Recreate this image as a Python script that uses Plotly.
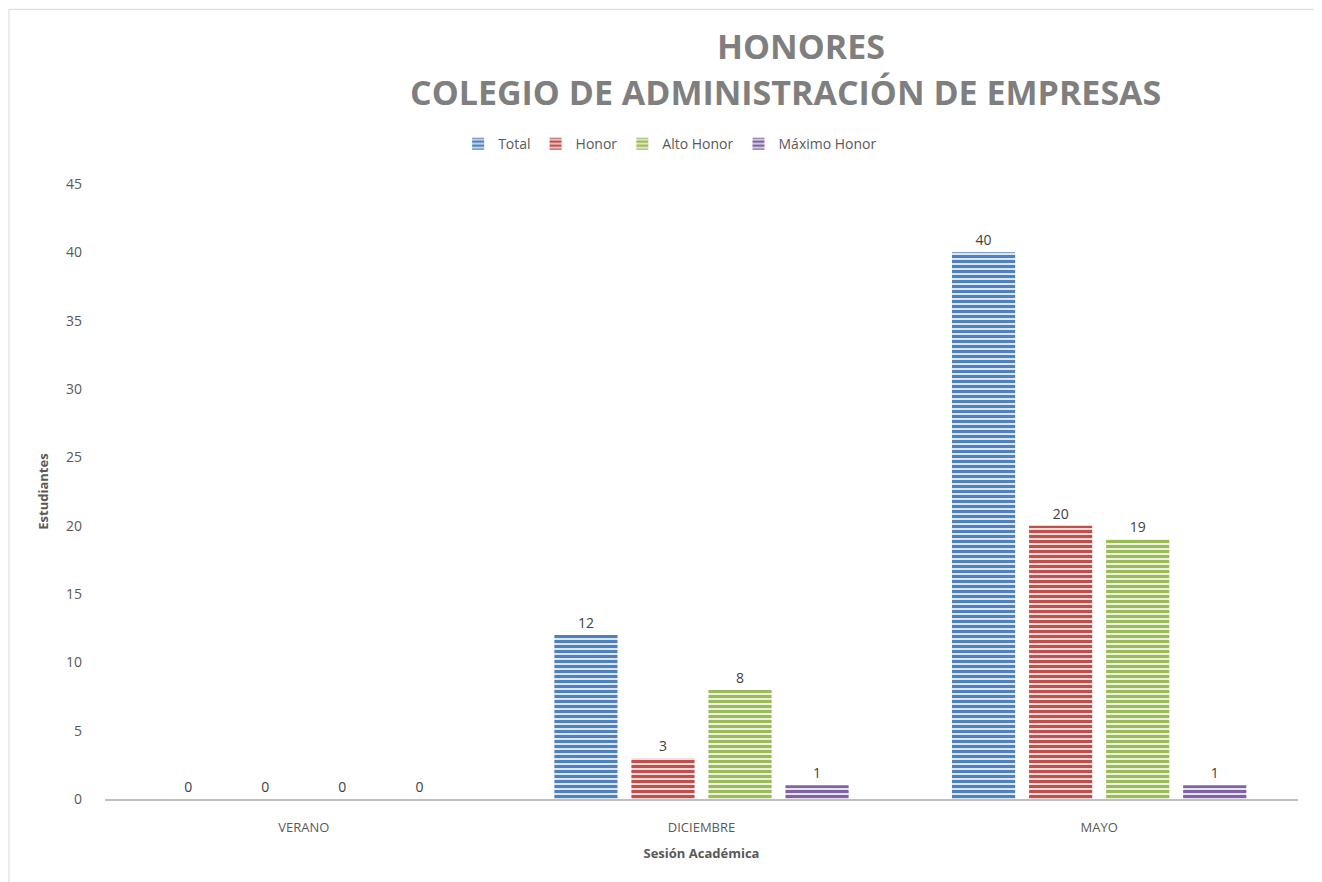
import plotly.graph_objects as go

categories = ["VERANO", "DICIEMBRE", "MAYO"]
series_names = ["Total", "Honor", "Alto Honor", "Máximo Honor"]
total = [0, 12, 40]
honor = [0, 3, 20]
alto_honor = [0, 8, 19]
maximo_honor = [0, 1, 1]
y_ticks = [0, 5, 10, 15, 20, 25, 30, 35, 40, 45]

series_values = [total, honor, alto_honor, maximo_honor]
base_colors = ["#4F81BD", "#C0504D", "#9BBB59", "#8064A2"]
light_colors = ["#DCE6F2", "#F2DCDB", "#EBF1DE", "#E6E0EC"]

fig = go.Figure()
for name, vals, c, lc in zip(series_names, series_values, base_colors, light_colors):
    fig.add_trace(go.Bar(
        name=name, x=categories, y=vals,
        marker=dict(color=lc, line=dict(width=0),
                    pattern=dict(shape="-", fgcolor=c, fgopacity=1, size=5, solidity=0.6, fillmode="overlay")),
        text=[str(v) for v in vals], textposition="outside",
        textfont=dict(family="Open Sans", size=14, color="#404040"),
        cliponaxis=False,
    ))

fig.update_layout(
    width=1314, height=874,
    margin=dict(l=97, r=24, t=176, b=83),
    paper_bgcolor="white", plot_bgcolor="white",
    barmode="group", bargap=0.225, bargroupgap=0.18,
    font=dict(family="Open Sans", color="#595959", size=14),
    showlegend=True,
    legend=dict(orientation="h", x=0.296, xanchor="left", y=1.065, yanchor="middle",
                font=dict(size=14, color="#595959"), itemwidth=30, tracegroupgap=0),
    xaxis=dict(showline=True, linecolor="#BFBFBF", linewidth=2, showgrid=False,
               ticks="", tickfont=dict(size=13, color="#595959"), ticklabelstandoff=15,
               title=dict(text="<b>Sesión Académica</b>", font=dict(size=13, color="#595959"), standoff=14)),
    yaxis=dict(range=[0, 45], tickvals=y_ticks, showgrid=False, showline=False, zeroline=False,
               ticks="", tickfont=dict(size=14, color="#595959"), ticklabelstandoff=22,
               title=dict(text="<b>Estudiantes</b>", font=dict(size=13, color="#595959"), standoff=14)),
)

fig.add_annotation(text="<b>HONORES</b>", xref="paper", yref="paper", x=0.583, y=1.2244,
                   showarrow=False, font=dict(size=34, color="#7F7F7F", family="Open Sans"),
                   xanchor="center", yanchor="middle")
fig.add_annotation(text="<b>COLEGIO DE ADMINISTRACIÓN DE EMPRESAS</b>", xref="paper", yref="paper",
                   x=0.570, y=1.1496, showarrow=False,
                   font=dict(size=34, color="#7F7F7F", family="Open Sans"),
                   xanchor="center", yanchor="middle")

fig.add_shape(type="rect", xref="paper", yref="paper", x0=-0.0805, x1=1.0184, y0=-0.2, y1=1.284,
              line=dict(color="#D9D9D9", width=1), fillcolor="rgba(0,0,0,0)", layer="below")

fig.write_html("out.html")
